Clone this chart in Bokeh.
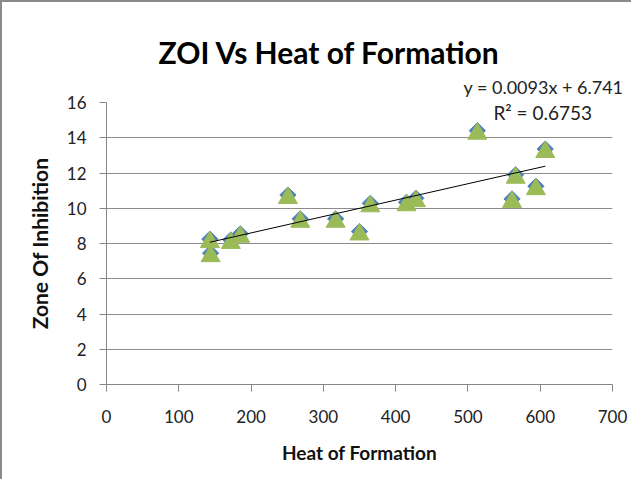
from bokeh.plotting import figure
from bokeh.models import Label, Range1d, FixedTicker, ColumnDataSource, Title
from bokeh.transform import dodge
from bokeh.embed import file_html
from bokeh.resources import INLINE
import math

# ---- data ----
heat = [143, 144, 172, 185, 251, 268, 317, 350, 365, 415, 428, 513, 561, 566, 594, 607]
zoi = [8.25, 7.45, 8.2, 8.55, 10.75, 9.4, 9.4, 8.68, 10.28, 10.34, 10.57, 14.4, 10.53, 11.9, 11.25, 13.36]
slope = 0.0093
intercept = 6.741
r_squared = 0.6753
x_ticks = [0, 100, 200, 300, 400, 500, 600, 700]
y_ticks = [0, 2, 4, 6, 8, 10, 12, 14, 16]

title_text = "ZOI Vs Heat of Formation"
x_label = "Heat of Formation"
y_label = "Zone Of Inhibition"

FONT = "Lato"
AXIS_GREY = "#868686"
GRID_GREY = "#8c8c8c"
BLUE = "#4F81BD"
GREEN = "#9BBB59"

src = ColumnDataSource(dict(x=heat, y=zoi))

p = figure(width=631, height=479, output_backend="svg", toolbar_location=None,
           x_range=Range1d(x_ticks[0], x_ticks[-1]), y_range=Range1d(y_ticks[0], y_ticks[-1]),
           min_border_left=104, min_border_right=21, min_border_top=100, min_border_bottom=97)
p.styles = {"border-left": "2px solid #8a8a8a", "border-top": "2px solid #8a8a8a"}
p.outline_line_color = None
p.background_fill_color = "white"
p.border_fill_color = "white"

# trendline equation, placed just above the plot frame
eq_title = Title(text=f"y = {slope}x + {intercept}", align="right", offset=-11,
                 text_font=FONT, text_font_size="18px", text_font_style="normal",
                 text_color="#222222", standoff=9)
p.add_layout(eq_title, "above")

# main title
p.title.text = title_text
p.title.text_font = FONT
p.title.text_font_size = "30px"
p.title.text_font_style = "bold"
p.title.text_color = "black"
p.title.align = "left"
p.title.offset = 52
p.title.standoff = 0

# axes
for ax in (p.xaxis[0], p.yaxis[0]):
    ax.axis_line_color = AXIS_GREY
    ax.major_tick_line_color = AXIS_GREY
    ax.major_tick_out = 7
    ax.major_tick_in = 0
    ax.minor_tick_line_color = None
    ax.major_label_text_font = FONT
    ax.major_label_text_font_size = "17px"
    ax.major_label_text_color = "#222222"
    ax.axis_label_text_font = FONT
    ax.axis_label_text_font_style = "bold"
    ax.axis_label_text_color = "#111111"

p.xaxis.ticker = FixedTicker(ticks=x_ticks)
p.yaxis.ticker = FixedTicker(ticks=y_ticks)
p.xaxis.axis_label = x_label
p.yaxis.axis_label = y_label
p.xaxis.major_label_standoff = 18
p.yaxis.major_label_standoff = 13
p.xaxis.axis_label_text_font_size = "19px"
p.yaxis.axis_label_text_font_size = "21px"
p.xaxis.axis_label_standoff = 15
p.yaxis.axis_label_standoff = 12

p.xgrid.grid_line_color = None
p.ygrid.grid_line_color = GRID_GREY
p.ygrid.grid_line_width = 1

# series 1: blue diamonds
p.scatter("x", "y", source=src, marker="square", angle=math.pi / 4, size=11.5,
          fill_color=BLUE, line_color=BLUE)
# series 2: green triangles
p.scatter("x", dodge("y", -0.17, range=p.y_range), source=src, marker="triangle", size=19,
          fill_color=GREEN, line_color=GREEN)

# linear trendline
x0, x1 = min(heat), max(heat)
p.line([x0, x1], [slope * x0 + intercept, slope * x1 + intercept], line_color="black", line_width=1)

p.add_layout(Label(x=603.5, y=15.43, text=f"R\u00b2 = {r_squared}", text_align="center",
                   text_baseline="middle", text_font=FONT, text_font_size="19px", text_color="#222222"))

open("out.html", "w").write(file_html(p, INLINE))
